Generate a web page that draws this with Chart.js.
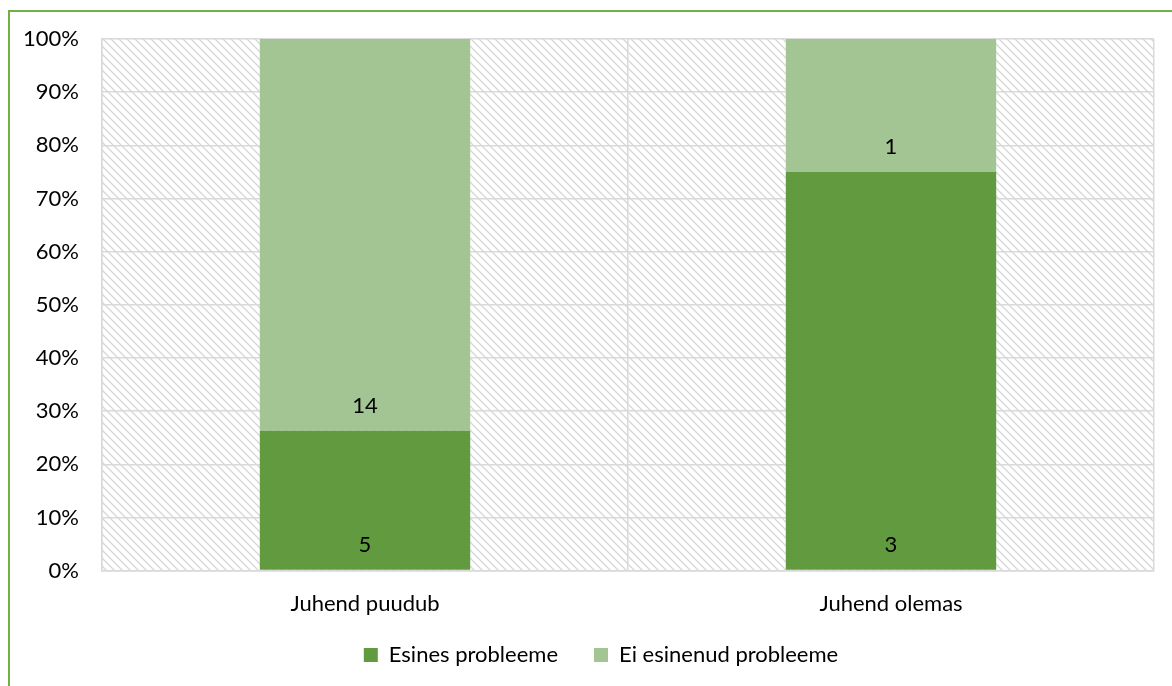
<!DOCTYPE html>
<html>
<head>
<meta charset="utf-8">
<script src="https://cdn.jsdelivr.net/npm/chart.js@4.4.1/dist/chart.umd.min.js"></script>
<style>
  html, body { margin: 0; padding: 0; background: #ffffff; }
  #wrap { position: relative; width: 1172px; height: 686px; }
</style>
</head>
<body>
<div id="wrap"><canvas id="c" width="1172" height="686"></canvas></div>
<script>
const categories = ["Juhend puudub", "Juhend olemas"];
const seriesNames = ["Esines probleeme", "Ei esinenud probleeme"];
const countsEsines = [5, 3];
const countsEiEsinenud = [14, 1];
const yTicks = [0, 10, 20, 30, 40, 50, 60, 70, 80, 90, 100];

const colorDark = "#629B3F";
const colorLight = "#A3C593";
const FONT = "Lato, 'Open Sans', sans-serif";
const FS = 22;
const LEGEND_PAD = 36;

const totals = categories.map((_, i) => countsEsines[i] + countsEiEsinenud[i]);
const shareEsines = countsEsines.map((v, i) => v / totals[i] * 100);
const shareEi = countsEiEsinenud.map((v, i) => v / totals[i] * 100);

function makeHatch() {
  const s = 8;
  const c = document.createElement('canvas');
  c.width = s; c.height = s;
  const g = c.getContext('2d');
  g.fillStyle = '#ffffff';
  g.fillRect(0, 0, s, s);
  g.strokeStyle = '#d6d6d6';
  g.lineWidth = 1.3;
  g.beginPath();
  g.moveTo(-1, -1); g.lineTo(s + 1, s + 1);
  g.moveTo(-1, s - 1); g.lineTo(1, s + 1);
  g.moveTo(s - 1, -1); g.lineTo(s + 1, 1);
  g.stroke();
  return c;
}

const hatchPlugin = {
  id: 'hatch',
  afterLayout(chart) {
    const lg = chart.legend;
    if (!lg) return;
    const h = lg.bottom - lg.top;
    const top = 655 - LEGEND_PAD - FS / 2;
    lg.top = top; lg.bottom = top + h;
    lg.left += 24; lg.right += 24;
  },
  beforeDraw(chart) {
    const ctx = chart.ctx;
    const a = chart.chartArea;
    ctx.save();
    ctx.fillStyle = ctx.createPattern(makeHatch(), 'repeat');
    ctx.fillRect(a.left, a.top, a.right - a.left, a.bottom - a.top);
    ctx.restore();
  },
  afterDraw(chart) {
    const ctx = chart.ctx;
    ctx.save();
    ctx.strokeStyle = '#72B043';
    ctx.lineWidth = 2;
    ctx.beginPath();
    ctx.moveTo(9, chart.height + 5);
    ctx.lineTo(9, 11);
    ctx.lineTo(chart.width + 5, 11);
    ctx.stroke();
    ctx.restore();
  }
};

const countLists = [countsEsines, countsEiEsinenud];
const labelPlugin = {
  id: 'segLabels',
  afterDatasetsDraw(chart) {
    const ctx = chart.ctx;
    ctx.save();
    ctx.font = FS + "px " + FONT;
    ctx.fillStyle = '#000000';
    ctx.textAlign = 'center';
    ctx.textBaseline = 'middle';
    chart.data.datasets.forEach((ds, di) => {
      const meta = chart.getDatasetMeta(di);
      meta.data.forEach((el, i) => {
        ctx.fillText(String(countLists[di][i]), el.x, el.base - 25);
      });
    });
    ctx.restore();
  }
};

new Chart(document.getElementById('c'), {
  type: 'bar',
  data: {
    labels: categories,
    datasets: [
      { label: seriesNames[0], data: shareEsines, backgroundColor: colorDark, barPercentage: 0.4, categoryPercentage: 1.0 },
      { label: seriesNames[1], data: shareEi, backgroundColor: colorLight, barPercentage: 0.4, categoryPercentage: 1.0 }
    ]
  },
  options: {
    responsive: false,
    animation: false,
    layout: { padding: { top: 39, right: 18, left: 0, bottom: -19 } },
    plugins: {
      legend: {
        position: 'bottom',
        labels: {
          boxWidth: 14, boxHeight: 14, padding: LEGEND_PAD,
          color: '#000000',
          font: { family: FONT, size: FS }
        }
      },
      tooltip: { enabled: false }
    },
    scales: {
      x: {
        stacked: true,
        grid: { color: '#d9d9d9', lineWidth: 1.5, drawTicks: false, offset: true },
        border: { color: '#d9d9d9', width: 1.5 },
        ticks: { color: '#000000', font: { family: FONT, size: FS }, padding: 20 }
      },
      y: {
        stacked: true,
        min: 0, max: 100,
        afterBuildTicks(scale) { scale.ticks = yTicks.map(v => ({ value: v })); },
        afterFit(scale) { scale.width = 102; },
        grid: { color: '#d9d9d9', lineWidth: 1.5, drawTicks: false },
        border: { color: '#d9d9d9', width: 1.5 },
        ticks: { color: '#000000', font: { family: FONT, size: FS }, padding: 23, callback: v => v + '%' }
      }
    }
  },
  plugins: [hatchPlugin, labelPlugin]
});
</script>
</body>
</html>
